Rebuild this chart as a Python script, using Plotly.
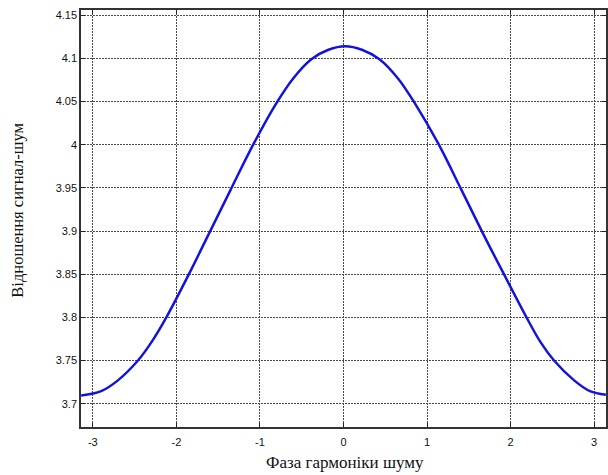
import plotly.graph_objects as go

# Phase of the noise harmonic (rad) and the resulting signal-to-noise ratio
phase = [-3.14, -2.9, -2.7, -2.46, -2.3, -2.12, -1.85, -1.61, -1.35, -1.07,
         -0.81, -0.6, -0.385, -0.18, 0.02, 0.22, 0.43, 0.65, 0.86, 1.13,
         1.41, 1.67, 1.92, 2.19, 2.36, 2.52, 2.76, 2.95, 3.14]
snr = [3.7095, 3.7145, 3.727, 3.75, 3.771, 3.80, 3.85, 3.897, 3.948, 4.002,
       4.047, 4.077, 4.099, 4.110, 4.114, 4.110, 4.099, 4.077, 4.047, 4.002,
       3.948, 3.897, 3.85, 3.80, 3.771, 3.75, 3.727, 3.7145, 3.7104]

x_ticks = [-3, -2, -1, 0, 1, 2, 3]
x_tick_text = ["-3", "-2", "-1", "0", "1", "2", "3"]
y_ticks = [3.7, 3.75, 3.8, 3.85, 3.9, 3.95, 4.0, 4.05, 4.1, 4.15]
y_tick_text = ["3.7", "3.75", "3.8", "3.85", "3.9", "3.95", "4", "4.05", "4.1", "4.15"]

x_title = "Фаза гармоніки шуму"
y_title = "Відношення сигнал-шум"

fig = go.Figure()
fig.add_trace(go.Scatter(
    x=phase, y=snr, mode="lines",
    line=dict(color="#1414d8", width=2.5, shape="spline", smoothing=1.0),
    hoverinfo="skip", showlegend=False,
))

axis_common = dict(
    showgrid=True, gridcolor="#4a4a4a", gridwidth=1.4, griddash="2px,1px",
    showline=True, linecolor="#333333", linewidth=1.5, mirror="ticks",
    ticks="inside", ticklen=4, tickcolor="#222222", tickwidth=1.2,
    zeroline=False,
    tickfont=dict(family="Liberation Sans, Arial", size=11, color="#111111"),
)

fig.update_xaxes(range=[-3.1416, 3.1416], tickvals=x_ticks, ticktext=x_tick_text,
                 ticklabelstandoff=4, **axis_common)
fig.update_yaxes(range=[3.673, 4.156], tickvals=y_ticks, ticktext=y_tick_text,
                 **axis_common)

fig.add_annotation(text=x_title, xref="paper", yref="paper", x=0.502, y=-0.086,
                   xanchor="center", yanchor="middle", showarrow=False,
                   font=dict(family="Liberation Serif, Times New Roman", size=17,
                             color="#111111"))
fig.add_annotation(text=y_title, xref="paper", yref="paper", x=-0.121, y=0.52,
                   xanchor="center", yanchor="middle", textangle=-90,
                   showarrow=False,
                   font=dict(family="Liberation Serif, Times New Roman", size=16.5,
                             color="#111111"))

fig.update_layout(
    width=608, height=475,
    margin=dict(l=81, r=0, t=10, b=48),
    paper_bgcolor="white", plot_bgcolor="white",
)

fig.write_html("out.html")
